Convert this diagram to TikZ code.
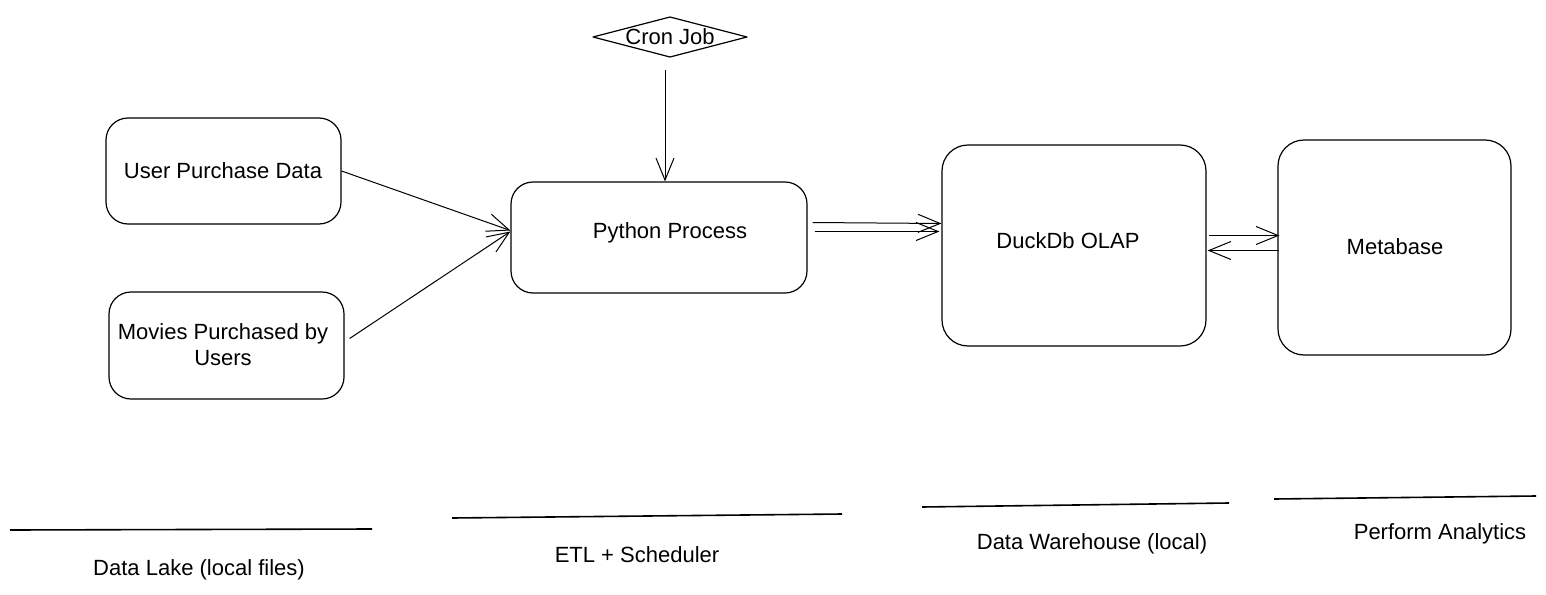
\documentclass[tikz,border=0pt]{standalone}
\usepackage{fontspec}
\setmainfont{Liberation Sans}
\usetikzlibrary{calc,arrows.meta}
\begin{document}
\begin{tikzpicture}[x=1pt,y=-1pt,
  box/.style={draw,line width=1.2pt,rounded corners=22pt,inner sep=0pt},
  lbl/.style={font=\fontsize{22}{26}\selectfont},
  arr/.style={line width=1pt,-{Straight Barb[length=22pt,width=18pt,line width=1pt]}},
  rule/.style={line width=1.6pt}]
\useasboundingbox (0,0) rectangle (1546,594);
% boxes
\node[box,minimum width=235pt,minimum height=106pt] (user) at (223.5,171) {};
\node[lbl] (usert) at (223,171) {User Purchase Data};
\node[box,minimum width=235pt,minimum height=107pt] (mov) at (226.5,345.5) {};
\node[lbl,align=center] (movt) at (223,345) {Movies Purchased by\\Users};
\node[box,minimum width=296pt,minimum height=111pt] (py) at (659,237.5) {};
\node[lbl] (pyt) at (670,233) {Python Process};
\node[box,rounded corners=26pt,minimum width=264pt,minimum height=201pt] (duck) at (1074,245.5) {};
\node[lbl] (duckt) at (1068,241) {DuckDb OLAP};
\node[box,rounded corners=26pt,minimum width=233pt,minimum height=215pt] (meta) at (1394.5,247.5) {};
\node[lbl] (metat) at (1395,247) {Metabase};
\node[lbl] (cron) at (670,37) {Cron Job};
\draw[line width=1.2pt,line join=round] ($(cron.center)+(-77,0)$) -- ($(cron.center)+(0,-20)$)
  -- ($(cron.center)+(77,0)$) -- ($(cron.center)+(0,20)$) -- cycle;
% connectors
\draw[arr] (user.east) -- ([yshift=7pt]py.west);
\draw[arr] ([xshift=5pt,yshift=7pt]mov.east) -- ([yshift=6pt]py.west);
\coordinate (cronout) at ($(cron.center)+(-5,33)$);
\draw[arr] (cronout) -- (cronout |- py.north);
\draw[arr] ([xshift=5pt,yshift=15pt]py.east) -- ([yshift=22pt]duck.west);
\draw[arr] ([xshift=7pt,yshift=6pt]py.east) -- ([xshift=-2pt,yshift=14pt]duck.west);
\draw[arr] ([xshift=2pt,yshift=10pt]duck.east) -- ([xshift=2pt,yshift=12pt]meta.west);
\draw[arr] ([xshift=2pt,yshift=-3pt]meta.west) -- ([xshift=1pt,yshift=-5pt]duck.east);
% bottom rules and labels
\draw[rule] (10,530) -- (372,529);
\draw[rule] (452,518) -- (842,514);
\draw[rule] (922,507) -- (1229,503);
\draw[rule] (1274,499) -- (1536,496);
\node[lbl] (l1) at (199,570) {Data Lake (local files)};
\node[lbl] (l2) at (637,555) {ETL + Scheduler};
\node[lbl] (l3) at (1092,544) {Data Warehouse (local)};
\node[lbl] (l4) at (1440,534) {Perform Analytics};
\end{tikzpicture}
\end{document}
